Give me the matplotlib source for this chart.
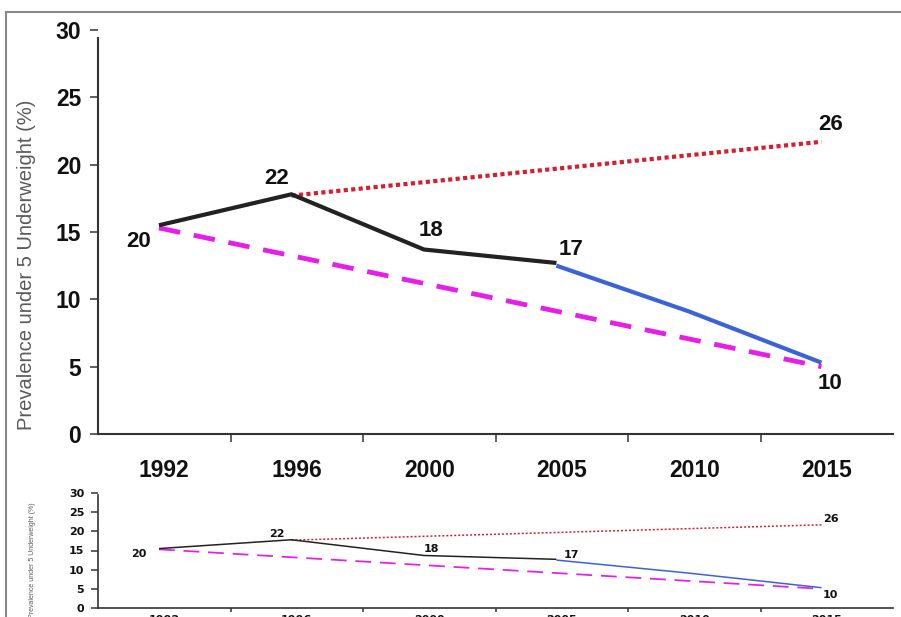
import numpy as np
import matplotlib.pyplot as plt
from matplotlib.lines import Line2D

# values
years = ['1992', '1996', '2000', '2005', '2010', '2015']
observed = [15.5, 17.8, 13.7, 12.7]          # 1992-2005, black
projected = [12.5, 9.1, 5.3]                 # 2005-2015, blue
trend = [17.7, 21.7]                         # 1996 -> 2015, red dotted
target = [15.3, 5.0]                         # 1992 -> 2015, magenta dashed
point_labels = ['20', '22', '18', '17', '26', '10']

x = np.arange(len(years)) - 0.04
# (x, y) of the point each label belongs to
label_anchor = [(x[0], observed[0]), (x[1], observed[1]), (x[2], observed[2]),
                (x[3], observed[3]), (x[5], trend[1]), (x[5], projected[2])]


def draw(ax, big):
    lw = 3.0 if big else 1.1
    ax.plot(x[:4], observed, color='#222222', lw=lw, solid_capstyle='butt', zorder=4)
    ax.plot(x[3:], projected, color='#3b62d8', lw=lw, solid_capstyle='butt', zorder=4)
    ax.plot(x[[1, 5]], trend, color='#d81e2e', lw=lw,
            ls=(0, (1, 0.8)) if big else (0, (1.3, 1.3)), dash_capstyle='butt', zorder=3)
    ax.plot(x[[0, 5]], target, color='#e61ee6', lw=lw * 1.15,
            ls=(0, (4.5, 2.9)) if big else (0, (9, 5)), dash_capstyle='butt', zorder=3)

    # label offsets in pixels (dx, dy)
    offs = [(-20, -16), (-15, 16), (7, 19), (15, 13), (9, 17), (9, -21)]
    for txt, (px, py), (dx, dy) in zip(point_labels, label_anchor, offs):
        ax.annotate(txt, (px, py), xytext=(dx * 0.72, dy * 0.72 * (1 if big else 0.35)),
                    textcoords='offset points', ha='center', va='center',
                    fontsize=16 if big else 8, fontweight='bold',
                    family='Liberation Sans' if big else 'DejaVu Sans', color='#111111', zorder=5)

    ax.set_xlim(-0.5, 5.5)
    ax.set_ylim(0, 30)
    ax.set_yticks(range(0, 31, 5))
    ax.set_xticks(range(len(years)))
    ax.set_xticks(np.arange(0.5, 5, 1), minor=True)
    ax.set_xticklabels(years)

    for side in ['top', 'right']:
        ax.spines[side].set_visible(False)
    for side in ['left', 'bottom']:
        ax.spines[side].set_color('#333333')
        ax.spines[side].set_linewidth(1.5 if big else 1.2)
    ax.spines['left'].set_bounds(0, 29.4)

    fam = 'Liberation Sans' if big else 'DejaVu Sans'
    fs = 16.5 if big else 8
    ax.tick_params(axis='y', direction='out', length=6 if big else 5, width=1.2,
                   color='#444444', pad=6 if big else 5, labelsize=fs)
    ax.tick_params(axis='x', which='major', length=0, pad=18 if big else 5, labelsize=fs)
    ax.tick_params(axis='x', which='minor', direction='out', length=6 if big else 3,
                   width=1.2, color='#444444')
    for lab in ax.get_xticklabels() + ax.get_yticklabels():
        lab.set_fontweight('bold')
        lab.set_family(fam)
        lab.set_color('#111111')

    ax.set_ylabel('Prevalence under 5 Underweight (%)', fontsize=14.5 if big else 5,
                  color='#5a5a5a', family='Liberation Sans')
    ax.yaxis.set_label_coords(-0.078, 0.42)


fig = plt.figure(figsize=(9.01, 6.17), dpi=100)
ax_main = fig.add_axes([98 / 901, 1 - 434 / 617, 795 / 901, 404 / 617])
ax_small = fig.add_axes([98 / 901, 1 - 608 / 617, 795 / 901, 115 / 617])
draw(ax_main, True)
draw(ax_small, False)

# grey frame around the picture
fig.add_artist(Line2D([6 / 901, 6 / 901], [0, 1 - 12 / 617], transform=fig.transFigure,
                      color='#8a8a8a', lw=1.5))
fig.add_artist(Line2D([6 / 901, 1], [1 - 12 / 617, 1 - 12 / 617], transform=fig.transFigure,
                      color='#8a8a8a', lw=1.5))

fig.savefig('out.png', dpi=100)
